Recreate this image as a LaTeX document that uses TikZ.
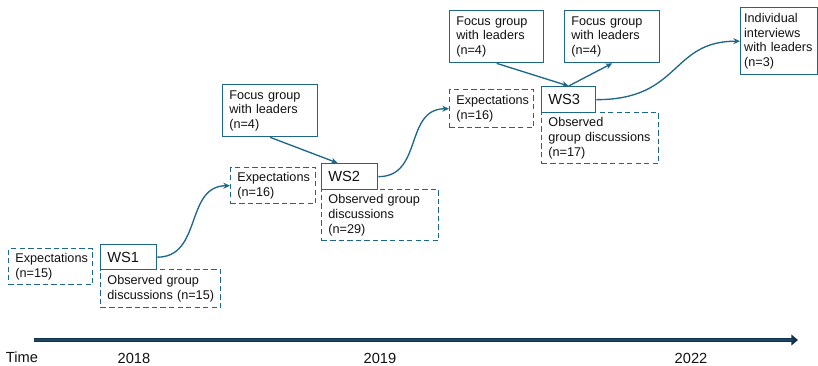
\documentclass[tikz,border=0pt]{standalone}
\usepackage{fontspec}
\setmainfont{Liberation Sans}
\usetikzlibrary{arrows.meta}
\definecolor{acc}{HTML}{1F6788}
\definecolor{navy}{HTML}{1B4765}
\definecolor{txt}{HTML}{111111}
\begin{document}
\begin{tikzpicture}[x=0.75pt,y=-0.75pt,
  base/.style={anchor=north west,draw=acc,line width=1pt,align=left,inner xsep=5pt,inner ysep=2pt,
     text=txt,font=\fontsize{9.5}{11}\selectfont},
  solidbox/.style={base},
  dashbox/.style={base,line width=1.1pt,dash pattern=on 4pt off 2.4pt},
  wsbox/.style={base,font=\fontsize{11}{12}\selectfont},
  conn/.style={draw=acc,line width=1pt,-{Stealth[length=5pt,width=4.5pt]}},
  yearlbl/.style={font=\fontsize{11}{13}\selectfont,text=txt,inner sep=0pt}]
\useasboundingbox (0,0) rectangle (818,365);

% boxes
\node[dashbox,minimum width=63pt,minimum height=27pt,text width=53pt] (exp15) at (8,248) {Expectations\\(n=15)};
\node[wsbox,minimum width=42pt,minimum height=18.75pt,text width=32pt] (ws1) at (100,244) {WS1};
\node[dashbox,minimum width=90pt,minimum height=28.5pt,text width=80pt] (obs15) at (100,269) {Observed~group\\discussions~(n=15)};

\node[dashbox,minimum width=63.75pt,minimum height=27pt,text width=53.75pt] (exp16a) at (230,167) {Expectations\\(n=16)};
\node[solidbox,minimum width=71.25pt,minimum height=39pt,text width=61.25pt] (fga) at (222,84) {Focus~group\\with~leaders\\(n=4)};
\node[wsbox,minimum width=42pt,minimum height=19.5pt,text width=32pt] (ws2) at (321,163) {WS2};
\node[dashbox,minimum width=87.75pt,minimum height=38.25pt,text width=77.75pt] (obs29) at (321,189) {Observed~group\\discussions\\(n=29)};

\node[dashbox,minimum width=63pt,minimum height=28.5pt,text width=53pt] (exp16b) at (449,89) {Expectations\\(n=16)};
\node[solidbox,minimum width=70.5pt,minimum height=39pt,text width=60.5pt] (fgb) at (449,10) {Focus~group\\with~leaders\\(n=4)};
\node[solidbox,minimum width=71.25pt,minimum height=39pt,text width=61.25pt] (fgc) at (564,10) {Focus~group\\with~leaders\\(n=4)};
\node[wsbox,minimum width=40.5pt,minimum height=19.5pt,text width=30.5pt] (ws3) at (541,86) {WS3};
\node[dashbox,minimum width=87.75pt,minimum height=38.25pt,text width=77.75pt] (obs17) at (541,112) {Observed\\group~discussions\\(n=17)};

\node[solidbox,inner xsep=2.6pt,minimum width=57.75pt,minimum height=50.25pt,text width=52.5pt] (ind) at (740,7) {Individual\\interviews\\with~leaders\\(n=3)};

% connectors
\draw[conn] (ws1.east) .. controls +(45,0) and +(-45,0) .. (exp16a.west);
\draw[conn] (ws2.east) .. controls +(45,0) and +(-45,0) .. (exp16b.west);
\draw[conn] (ws3.east) .. controls +(85,0) and +(-70,0) .. (ind.west);
\coordinate (ws2in) at ([xshift=-9pt]ws2.north);
\draw[conn] (fga.south) -- (ws2in);
\draw[conn] (fgb.south) -- (ws3.north);
\draw[conn] (ws3.north) -- (fgc.south);

% timeline
\coordinate (t0) at (34,340);
\coordinate (t1) at (798,340);
\draw[line width=3.6pt,draw=navy!70!black,-{Triangle[length=5pt,width=8pt]}] (t0) -- (t1);
\draw[line width=1.8pt,draw=navy,shorten >=4pt] (t0) -- (t1);
\node[yearlbl] (ltime) at (22,357) {Time};
\node[yearlbl] (l2018) at (134,358) {2018};
\node[yearlbl] (l2019) at (380,358) {2019};
\node[yearlbl] (l2022) at (691,358) {2022};
\end{tikzpicture}
\end{document}
